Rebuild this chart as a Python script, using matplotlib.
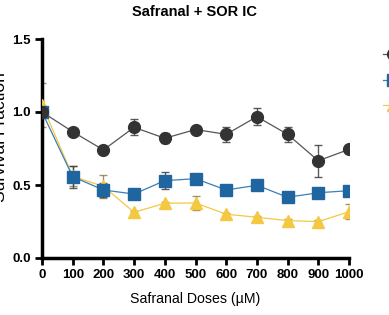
import matplotlib
matplotlib.use("Agg")
import matplotlib.pyplot as plt
import numpy as np

plt.rcParams['font.family'] = ['Liberation Sans', 'DejaVu Sans']

doses = [0, 100, 200, 300, 400, 500, 600, 700, 800, 900, 1000]

# Safranal alone
saf = [1.00, 0.865, 0.74, 0.895, 0.82, 0.88, 0.847, 0.968, 0.847, 0.666, 0.744]
saf_err = [0.03, 0.01, 0.01, 0.055, 0.035, 0.02, 0.05, 0.06, 0.05, 0.11, 0.01]

# Safranal + SOR IC25
ic25 = [1.00, 0.557, 0.466, 0.438, 0.53, 0.543, 0.466, 0.498, 0.416, 0.447, 0.461]
ic25_err = [0.03, 0.075, 0.05, 0.01, 0.06, 0.01, 0.01, 0.01, 0.01, 0.01, 0.01]

# Safranal + SOR IC50
ic50 = [1.05, 0.56, 0.49, 0.313, 0.375, 0.377, 0.30, 0.279, 0.256, 0.249, 0.317]
ic50_err = [0.15, 0.07, 0.08, 0.01, 0.01, 0.05, 0.01, 0.01, 0.01, 0.01, 0.05]

labels = ['Safranal', 'Safranal + SOR IC25', 'Safranal + SOR IC50']

fig = plt.figure(figsize=(3.89, 3.15), dpi=100)
ax = fig.add_axes([42 / 389, 57 / 315, 307 / 389, 219 / 315])

series = [
    (saf, saf_err, 'o', '#333333', '#555555', '#333333'),
    (ic25, ic25_err, 's', '#1f66a0', '#3b7fb5', '#333333'),
    (ic50, ic50_err, '^', '#f5c842', '#f5c842', '#8a7a40'),
]
handles = []
for (vals, errs, mk, col, lcol, ecol), lab in zip(series[::-1], labels[::-1]):
    ax.errorbar(doses, vals, yerr=errs, fmt='none', ecolor=ecol,
                elinewidth=1.0, capsize=3, capthick=1.0, alpha=0.8, zorder=2)
    h, = ax.plot(doses, vals, color=lcol, lw=0.9, marker=mk, ms=8.5,
                 mfc=col, mec=col, label=lab, zorder=3)
    handles.append(h)

ax.set_xlim(0, 1000)
ax.set_ylim(0, 1.5)
ax.set_xticks(doses)
ax.set_yticks([0.0, 0.5, 1.0, 1.5])
ax.set_yticklabels(['0.0', '0.5', '1.0', '1.5'])
for s in ['top', 'right']:
    ax.spines[s].set_visible(False)
for s in ['left', 'bottom']:
    ax.spines[s].set_linewidth(2.5)
    ax.spines[s].set_color('black')
ax.tick_params(width=2.0, length=5, labelsize=9.5, direction='out', pad=3)
for t in ax.get_xticklabels() + ax.get_yticklabels():
    t.set_fontweight('bold')

ax.set_xlabel('Safranal Doses (µM)', fontsize=10.2, labelpad=8)
# y label sits partly outside the figure, as in the reference
fig.text(1 / 389, 1 - 137 / 315, 'Survival Fraction', rotation=90,
         ha='center', va='center', fontsize=12.5)
fig.text(0.50, 0.962, 'Safranal + SOR IC', ha='center', va='center',
         fontsize=10.5, fontweight='bold')

fig.legend(handles[::-1], labels, loc='upper left',
           bbox_to_anchor=(372 / 389, 1 - 38 / 315), frameon=False,
           handlelength=1.6, labelspacing=1.1, fontsize=9)

fig.savefig('out.png', dpi=100)
